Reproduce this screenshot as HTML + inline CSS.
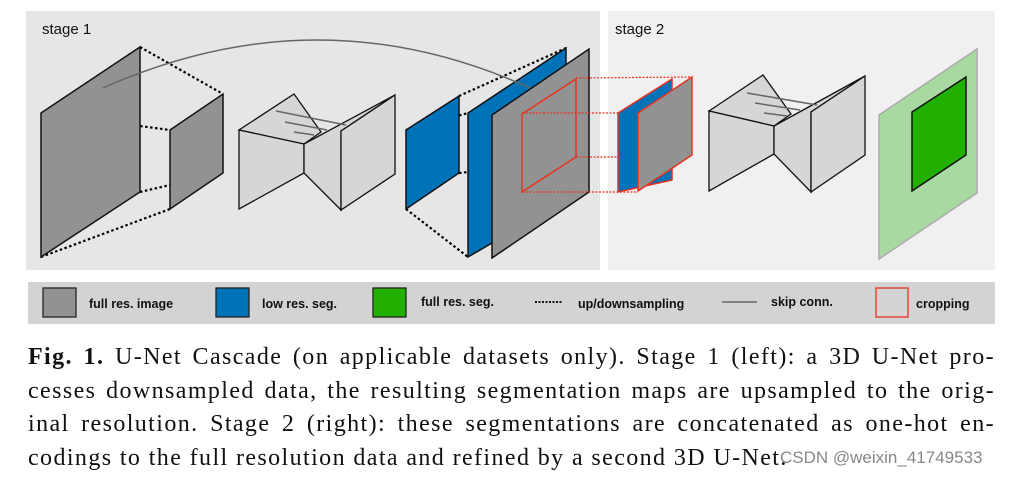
<!DOCTYPE html>
<html><head><meta charset="utf-8"><style>
html,body{margin:0;padding:0;background:#fff;width:1015px;height:477px;overflow:hidden}
svg{position:absolute;left:0;top:0}
.cap{position:absolute;left:28px;width:967px;font-family:"Liberation Serif",serif;font-size:24px;letter-spacing:1.4px;line-height:33.5px;color:#111;top:341px}
.cap div{height:33.5px;white-space:nowrap;text-align:justify;text-align-last:justify}
.cap div.last{text-align:left;text-align-last:left}
.wm{position:absolute;left:780px;top:448px;font-family:"Liberation Sans",sans-serif;font-size:17px;color:#888}
</style></head><body>
<svg width="1015" height="477" viewBox="0 0 1015 477" xmlns="http://www.w3.org/2000/svg" font-family="Liberation Sans, sans-serif">
<rect x="26" y="11" width="574" height="259" fill="#e6e6e6"/>
<rect x="608" y="11" width="387" height="259" fill="#f0f0f0"/>
<text x="42" y="34" font-size="15" fill="#111">stage 1</text>
<text x="615" y="34" font-size="15" fill="#111">stage 2</text>
<g stroke="#000" stroke-width="2.2" stroke-dasharray="2.5,2.5" fill="none">
<line x1="140" y1="47" x2="223" y2="94"/><line x1="41" y1="113" x2="170" y2="130"/>
<line x1="140" y1="192" x2="170" y2="185"/><line x1="41" y1="257" x2="170" y2="209"/>
</g>
<polygon points="41,113 140,47 140,192 41,257" fill="#929292" stroke="#111" stroke-width="1.5"/>
<polygon points="170,130 223,94 223,173 170,209" fill="#929292" stroke="#111" stroke-width="1.5"/>
<g stroke="#111" stroke-width="1.3" fill="#d6d6d6">
<polygon points="239,130 294,94 321,132 304,144"/>
<polygon points="239,130 304,144 304,173 239,209"/>
<polygon points="304,144 395,95 341,131 341,210 304,173"/>
<polygon points="341,131 395,95 395,174 341,210"/>
</g>
<g stroke="#666" stroke-width="1.5"><line x1="276" y1="111" x2="346" y2="125"/><line x1="285" y1="122" x2="327" y2="130"/><line x1="294" y1="132" x2="314" y2="135"/></g>
<g stroke="#000" stroke-width="2.2" stroke-dasharray="2.5,2.5" fill="none">
<line x1="459" y1="96" x2="566" y2="48"/><line x1="406" y1="130" x2="468" y2="113"/>
<line x1="459" y1="173" x2="468" y2="172"/><line x1="406" y1="209" x2="468" y2="257"/>
</g>
<polygon points="406,130 459,96 459,173 406,209" fill="#0072b8" stroke="#111" stroke-width="1.5"/>
<polygon points="468,113 566,48 566,200 468,257" fill="#0072b8" stroke="#111" stroke-width="1.5"/>
<polygon points="492,115 589,49 589,192 492,258" fill="#929292" stroke="#111" stroke-width="1.5"/>
<path d="M103,88 Q318,-8 530,88" stroke="#666" stroke-width="1.5" fill="none"/>
<g stroke="#e8321e" stroke-width="1.2" stroke-dasharray="2,1.5" fill="none">
<line x1="576" y1="78" x2="692" y2="77"/><line x1="522" y1="113" x2="618" y2="113"/>
<line x1="576" y1="157" x2="618" y2="157"/><line x1="522" y1="192" x2="638" y2="192"/>
</g>
<polygon points="522,114 576,79 576,157 522,192" fill="none" stroke="#e8321e" stroke-width="1.5"/>
<polygon points="618,113 672,79 672,180 618,192" fill="#0072b8" stroke="#e8321e" stroke-width="1.5"/>
<polygon points="638,113 692,77 692,155 638,191" fill="#929292" stroke="#e8321e" stroke-width="1.5"/>
<g stroke="#111" stroke-width="1.3" fill="#d6d6d6">
<polygon points="709,111 763,75 791,114 774,126"/>
<polygon points="709,111 774,126 774,154 709,191"/>
<polygon points="774,126 865,76 811,112 811,192 774,154"/>
<polygon points="811,112 865,76 865,155 811,192"/>
</g>
<g stroke="#666" stroke-width="1.5"><line x1="747" y1="93" x2="817" y2="105"/><line x1="755" y1="103" x2="800" y2="110"/><line x1="764" y1="113" x2="787" y2="116"/></g>
<polygon points="879,115 977,49 977,193 879,259" fill="#a8d9a0" stroke="#aaa" stroke-width="1.5"/>
<polygon points="912,112 966,77 966,155 912,191" fill="#22b000" stroke="#111" stroke-width="1.5"/>
<rect x="28" y="282" width="967" height="42" fill="#d3d3d3"/>
<rect x="43" y="288" width="33" height="29" fill="#929292" stroke="#222" stroke-width="1.3"/>
<rect x="216" y="288" width="33" height="29" fill="#0072b8" stroke="#222" stroke-width="1.3"/>
<rect x="373" y="288" width="33" height="29" fill="#22b000" stroke="#222" stroke-width="1.3"/>
<rect x="876" y="288" width="32" height="29" fill="none" stroke="#e8321e" stroke-width="1.3"/>
<line x1="535" y1="302" x2="563" y2="302" stroke="#111" stroke-width="2" stroke-dasharray="2,1.5"/>
<line x1="722" y1="302" x2="757" y2="302" stroke="#666" stroke-width="1.5"/>
<g font-size="12.5" font-weight="bold" fill="#111">
<text x="89" y="308">full res. image</text>
<text x="262" y="308">low res. seg.</text>
<text x="421" y="306">full res. seg.</text>
<text x="578" y="308">up/downsampling</text>
<text x="771" y="306">skip conn.</text>
<text x="916" y="308">cropping</text>
</g>
</svg>
<div class="cap">
<div><b>Fig. 1.</b> U-Net Cascade (on applicable datasets only). Stage 1 (left): a 3D U-Net pro-</div>
<div>cesses downsampled data, the resulting segmentation maps are upsampled to the orig-</div>
<div>inal resolution. Stage 2 (right): these segmentations are concatenated as one-hot en-</div>
<div class="last">codings to the full resolution data and refined by a second 3D U-Net.</div>
</div>
<div class="wm">CSDN @weixin_41749533</div>
</body></html>
